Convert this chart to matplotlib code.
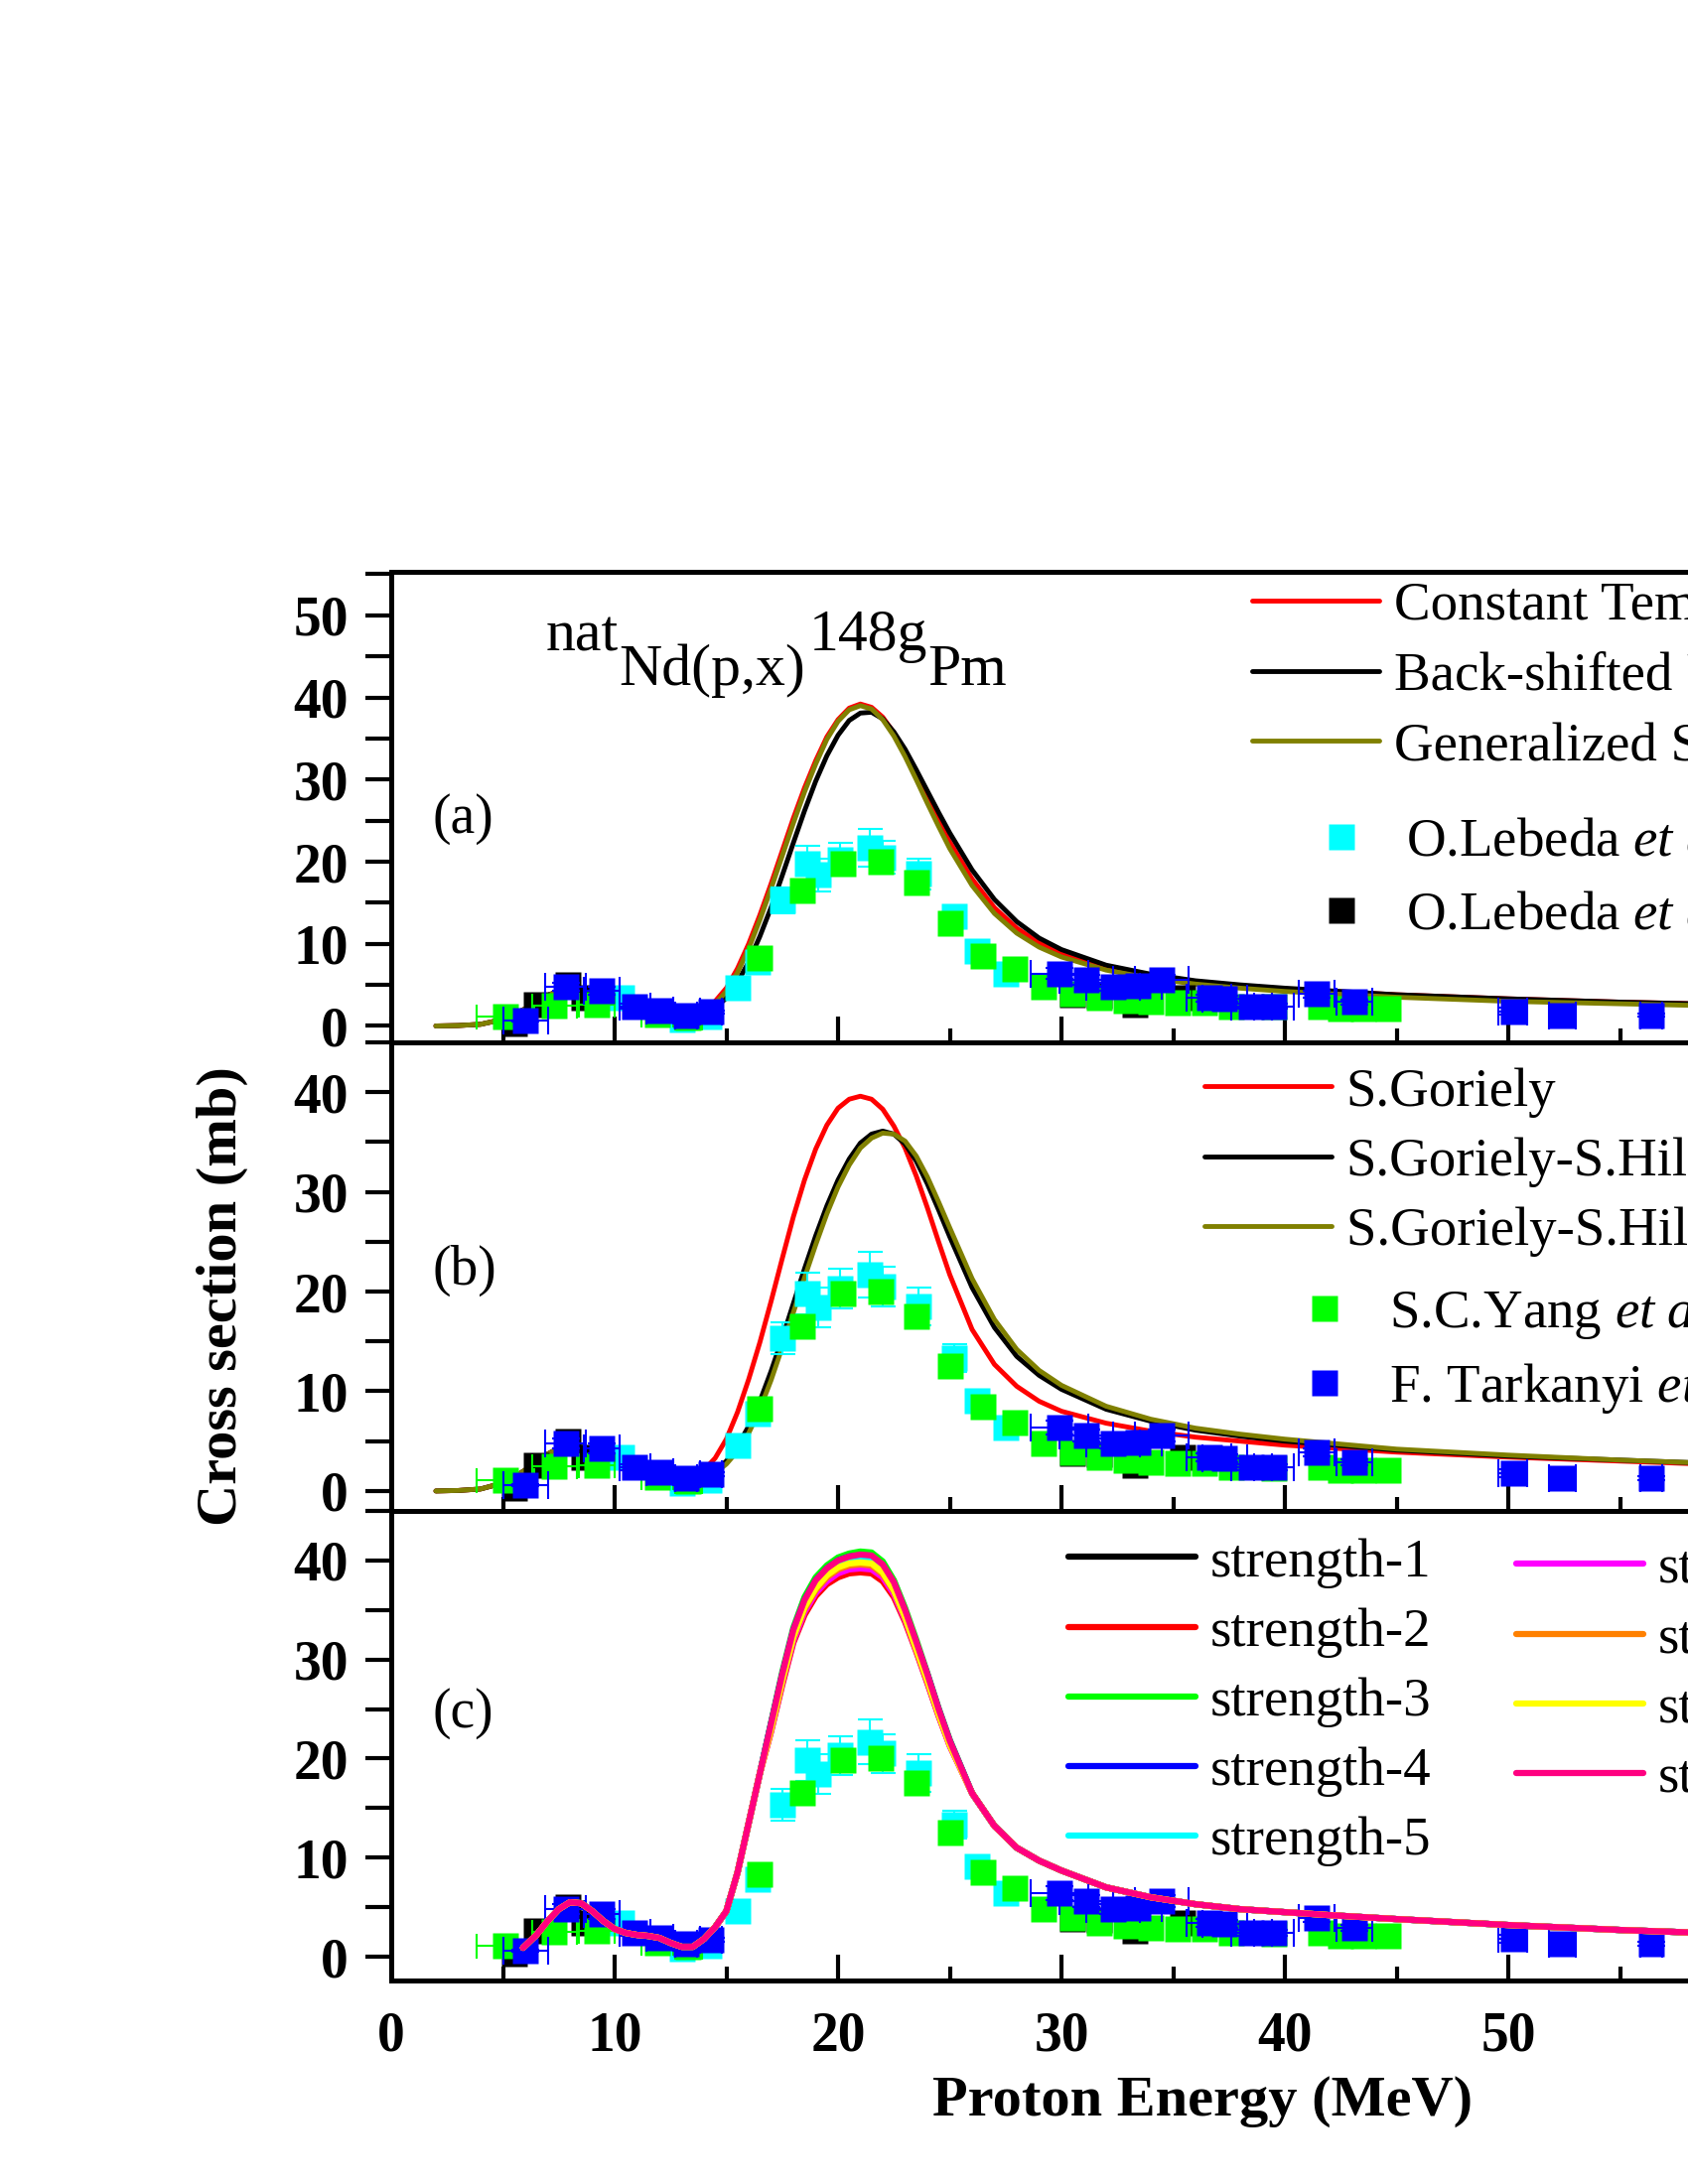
import matplotlib
matplotlib.use("Agg")
import matplotlib.pyplot as plt
import numpy as np

plt.rcParams['font.family'] = ['Liberation Serif', 'DejaVu Serif']
plt.rcParams['mathtext.fontset'] = 'custom'
plt.rcParams['mathtext.rm'] = 'Liberation Serif'
plt.rcParams['mathtext.it'] = 'Liberation Serif:italic'

# ---------------- experimental data ----------------
leb1_x = [10.3, 13.0, 14.2, 15.5, 16.4, 17.5, 18.6, 19.1, 20.1, 21.4, 22.0, 23.6, 25.2, 26.2, 27.5]
leb1_y = [3.4, 0.8, 1.1, 4.6, 7.8, 15.3, 19.8, 18.4, 20.3, 21.7, 20.5, 18.5, 13.3, 9.1, 6.4]
leb1_dy = [0.4, 0.3, 0.3, 0.5, 0.8, 1.6, 2.1, 2.0, 2.0, 2.3, 2.0, 1.9, 1.4, 1.0, 0.7]

leb2_x = [5.5, 6.5, 7.9, 8.6, 30.5, 31.7, 33.3, 35.4]
leb2_y = [0.3, 2.6, 5.0, 3.4, 3.8, 3.7, 2.6, 3.4]

yang_x = [5.1, 7.3, 9.2, 11.9, 13.3, 16.5, 18.4, 20.2, 21.9, 23.5, 25.0, 26.5, 27.9, 29.2, 30.5,
          31.7, 32.9, 34.0, 35.2, 36.4, 37.6, 39.5, 41.6, 42.5, 43.5, 44.6]
yang_y = [1.1, 2.5, 2.6, 1.4, 1.0, 8.3, 16.5, 19.8, 20.0, 17.5, 12.5, 8.5, 6.9, 4.8, 3.9,
          3.4, 3.1, 2.9, 2.8, 2.8, 2.4, 2.3, 2.4, 2.1, 2.1, 2.1]
yang_dx = [1.3, 1.0, 0.8, 0.7, 0.6, 0.5, 0.5, 0.4, 0.4, 0.4, 0.4, 0.3, 0.3, 0.3, 0.3,
           0.3, 0.3, 0.3, 0.3, 0.3, 0.3, 0.3, 0.3, 0.3, 0.3, 0.3]

tark_x = [6.0, 7.8, 9.4, 10.9, 12.0, 13.2, 14.3, 29.9, 31.1, 32.3, 33.4, 34.5, 36.6, 37.3,
          38.5, 39.5, 41.4, 43.1, 50.2, 52.4, 56.4]
tark_y = [0.6, 4.8, 4.3, 2.4, 1.9, 1.3, 1.7, 6.4, 5.6, 4.8, 4.9, 5.6, 3.4, 3.3,
          2.4, 2.4, 3.9, 2.9, 1.8, 1.3, 1.3]
tark_dx = [1.0, 0.9, 0.8, 0.7, 0.6, 0.5, 0.5, 1.3, 1.2, 1.2, 1.1, 1.2, 1.0, 1.0,
           0.9, 0.9, 0.8, 0.8, 0.65, 0.6, 0.5]
tark_dy = [0.1, 0.5, 0.5, 0.3, 0.2, 0.2, 0.2, 0.7, 0.6, 0.5, 0.5, 0.6, 0.4, 0.4,
           0.3, 0.3, 0.4, 0.3, 0.4, 0.2, 0.2]

# ---------------- model curves, panels (a) and (b) ----------------
E_ab = [2, 3, 4, 5, 5.5, 6, 6.5, 7, 7.5, 8, 8.5, 9, 9.5, 10, 10.5, 11, 11.5, 12, 12.5, 13, 13.5, 14,
        14.5, 15, 15.5, 16, 16.5, 17, 17.5, 18, 18.5, 19, 19.5, 20, 20.5, 21, 21.5, 22, 22.5, 23,
        23.5, 24, 24.5, 25,
        26, 27, 28, 29, 30, 32, 34, 36, 38, 40, 45, 50, 55, 60, 65]
low_ab = [0.0, 0.05, 0.2, 0.8, 1.4, 2.1, 2.9, 3.7, 4.3, 4.6, 4.5, 4.1, 3.6, 3.0, 2.5, 2.1, 1.8,
          1.6, 1.4, 1.35, 1.5, 2.1]

ctm_y = low_ab + [3.0, 4.6, 7.0, 10.0, 13.5, 17.3, 21.3, 25.3, 29.0, 32.3, 35.2, 37.3, 38.7, 39.2,
                  38.8, 37.6, 35.7, 33.3, 30.6, 27.8, 25.0, 22.4,
                  17.9, 14.4, 11.9, 10.1, 8.8, 7.1, 6.1, 5.4, 4.9, 4.5, 3.8, 3.3, 2.9, 2.6, 2.3]
bsfg_y = low_ab + [2.2, 3.4, 5.3, 7.8, 10.9, 14.4, 18.3, 22.3, 26.2, 29.8, 32.9, 35.4, 37.2, 38.1,
                   38.2, 37.4, 35.8, 33.7, 31.2, 28.6, 26.0, 23.5,
                   19.0, 15.4, 12.7, 10.7, 9.3, 7.4, 6.3, 5.5, 5.0, 4.6, 3.8, 3.3, 2.9, 2.6, 2.3]
gsm_y = low_ab + [2.7, 4.2, 6.5, 9.4, 12.9, 16.7, 20.7, 24.7, 28.5, 31.9, 34.9, 37.1, 38.5, 39.0,
                  38.6, 37.3, 35.3, 32.8, 30.0, 27.1, 24.3, 21.6,
                  17.1, 13.7, 11.3, 9.6, 8.4, 6.8, 5.8, 5.1, 4.6, 4.2, 3.5, 3.0, 2.7, 2.4, 2.2]

gor_y = low_ab + [3.3, 5.2, 7.9, 11.2, 14.9, 19.0, 23.3, 27.5, 31.2, 34.3, 36.7, 38.4, 39.3, 39.6,
                  39.3, 38.3, 36.6, 34.4, 31.6, 28.4, 25.0, 21.7,
                  16.2, 12.7, 10.5, 9.0, 8.0, 6.8, 6.0, 5.4, 5.0, 4.6, 3.9, 3.4, 3.0, 2.6, 2.3]
gsh1_y = low_ab + [2.0, 3.0, 4.5, 6.5, 9.0, 12.0, 15.3, 18.8, 22.3, 25.6, 28.6, 31.2, 33.3, 34.9,
                   35.8, 36.1, 35.8, 34.8, 33.1, 30.8, 28.2, 25.5,
                   20.4, 16.4, 13.5, 11.6, 10.2, 8.2, 7.0, 6.1, 5.5, 5.0, 4.1, 3.5, 3.1, 2.7, 2.4]
gsh2_y = low_ab + [1.8, 2.7, 4.0, 5.8, 8.2, 11.1, 14.4, 17.9, 21.4, 24.7, 27.8, 30.5, 32.7, 34.4,
                   35.4, 35.9, 35.8, 35.1, 33.6, 31.5, 29.0, 26.4,
                   21.3, 17.2, 14.2, 12.1, 10.6, 8.5, 7.2, 6.3, 5.7, 5.2, 4.2, 3.6, 3.1, 2.7, 2.4]

# ---------------- model curves, panel (c) ----------------
E_c = [5.9, 6.5, 7.0, 7.5, 8.0, 8.5, 9.0, 9.5, 10.0, 10.5, 11.0, 11.5, 12.0, 12.5, 13.0, 13.5, 14.0,
       14.5, 15.0, 15.5, 16.0, 16.5,
       17, 17.5, 18, 18.5, 19, 19.5, 20, 20.5, 21, 21.5, 22, 22.5, 23, 23.5, 24, 24.5, 25,
       26, 27, 28, 29, 30, 32, 34, 36, 38, 40, 42, 45, 50, 55, 60, 65]
low_c = [0.9, 2.2, 3.6, 4.8, 5.5, 5.4, 4.6, 3.6, 2.8, 2.4, 2.2, 2.1, 1.9, 1.4, 1.0, 1.0, 1.8,
         3.0, 4.6, 8.5, 13.5, 18.5]
tail_c = [16.5, 13.2, 11.0, 9.7, 8.7, 7.0, 6.0, 5.3, 4.8, 4.5, 4.2, 3.8, 3.2, 2.7, 2.3, 2.1]
peak_s1 = [23.5, 28.4, 32.9, 35.9, 37.9, 39.1, 39.9, 40.3, 40.4, 40.3, 39.4, 37.6, 34.9, 31.7, 28.4, 24.9, 21.7]
peak_s2 = [22.7, 27.4, 31.7, 34.5, 36.4, 37.6, 38.3, 38.7, 38.8, 38.7, 37.9, 36.3, 33.8, 30.8, 27.6, 24.3, 21.3]
peak_s3 = [23.6, 28.7, 33.2, 36.3, 38.3, 39.5, 40.3, 40.7, 40.9, 40.8, 39.9, 38.0, 35.2, 32.0, 28.6, 25.1, 21.9]
peak_s4 = [23.5, 28.5, 33.0, 36.0, 38.0, 39.2, 40.0, 40.4, 40.5, 40.4, 39.5, 37.7, 34.9, 31.7, 28.5, 25.0, 21.8]
peak_s5 = [23.4, 28.3, 32.8, 35.8, 37.8, 39.0, 39.8, 40.2, 40.3, 40.2, 39.3, 37.5, 34.8, 31.6, 28.4, 24.9, 21.7]
peak_s6 = [22.8, 27.6, 31.9, 34.8, 36.7, 37.9, 38.7, 39.1, 39.2, 39.1, 38.3, 36.6, 34.0, 30.9, 27.7, 24.4, 21.3]
peak_s7 = [22.9, 27.8, 32.2, 35.1, 37.0, 38.3, 39.1, 39.5, 39.6, 39.5, 38.6, 36.9, 34.2, 31.0, 27.8, 24.5, 21.4]
peak_s8 = [23.0, 27.9, 32.3, 35.3, 37.2, 38.5, 39.3, 39.7, 39.8, 39.7, 38.8, 37.0, 34.3, 31.1, 27.9, 24.5, 21.4]
peak_s9 = [23.5, 28.5, 33.0, 36.0, 38.0, 39.2, 40.0, 40.4, 40.6, 40.5, 39.6, 37.8, 35.0, 31.8, 28.5, 25.0, 21.8]

strength_labels = ['strength-1', 'strength-2', 'strength-3', 'strength-4', 'strength-5',
                   'strength-6', 'strength-7', 'strength-8', 'strength-9']
strength_peaks = [peak_s1, peak_s2, peak_s3, peak_s4, peak_s5, peak_s6, peak_s7, peak_s8, peak_s9]
strength_colors = ['#000000', '#FF0000', '#00FF00', '#0000FF', '#00FFFF',
                   '#FF00FF', '#FF8000', '#FFFF00', '#FF0080']

ld_labels_a = ['Constant Temperature Model', 'Back-shifted Fermi Gas Model', 'Generalized Superfluid Model']
ld_labels_b = ['S.Goriely', 'S.Goriely-S.Hilaire-A.J.Koning', 'S.Goriely-S.Hilaire-Temperature dependent']
model_colors = ['#FF0000', '#000000', '#808000']

# ---------------- figure ----------------
W, H = 1700, 2200
fig = plt.figure(figsize=(17, 22), dpi=100)

def px_axes(left, top, right, bottom):
    return fig.add_axes([left / W, 1 - bottom / H, (right - left) / W, (bottom - top) / H])

XMAX = 65
right_px = 394 + XMAX * 22.5
ax_a = px_axes(394, 576, right_px, 1050)
ax_b = px_axes(394, 1050, right_px, 1522)
ax_c = px_axes(394, 1522, right_px, 1995)

TICK_FS = 40
LEG_FS = 39.5
MS = 19
LSP = 0.36


def draw_data(ax, z):
    ax.errorbar(leb1_x, leb1_y, yerr=leb1_dy, fmt='none', ecolor='#00FFFF', elinewidth=1.5,
                capsize=9, capthick=1.5, zorder=z)
    l1, = ax.plot(leb1_x, leb1_y, 's', color='#00FFFF', ms=MS, mec='none', zorder=z,
                  label=r'O.Lebeda $\it{et\ al.}$ (2012)')
    l2, = ax.plot(leb2_x, leb2_y, 's', color='#000000', ms=MS, mec='none', zorder=z,
                  label=r'O.Lebeda $\it{et\ al.}$ (2014)')
    ax.errorbar(yang_x, yang_y, xerr=yang_dx, fmt='none', ecolor='#00FF00', elinewidth=1.5,
                capsize=9, capthick=1.5, zorder=z)
    l3, = ax.plot(yang_x, yang_y, 's', color='#00FF00', ms=MS, mec='none', zorder=z,
                  label=r'S.C.Yang $\it{et\ al.}$ (2013)')
    ax.errorbar(tark_x, tark_y, xerr=tark_dx, yerr=tark_dy, fmt='none', ecolor='#0000FF',
                elinewidth=1.5, capsize=10, capthick=1.5, zorder=z)
    l4, = ax.plot(tark_x, tark_y, 's', color='#0000FF', ms=MS, mec='none', zorder=z,
                  label=r'F. Tarkanyi $\it{et\ al.}$ (2011)')
    return l1, l2, l3, l4


def style_axis(ax, ylim, yticks, show_xlabels):
    ax.set_xlim(0, XMAX)
    ax.set_ylim(*ylim)
    ax.set_xticks(np.arange(0, XMAX + 1, 10))
    ax.set_xticks(np.arange(5, XMAX + 1, 10), minor=True)
    ax.set_yticks(yticks)
    ax.set_yticks([t + 5 for t in yticks], minor=True)
    ax.tick_params(axis='x', which='major', direction='in', length=19, width=3, bottom=True, top=False,
                   labelbottom=show_xlabels, labelsize=TICK_FS, pad=22)
    ax.tick_params(axis='x', which='minor', direction='in', length=10, width=3, bottom=True, top=False)
    ax.tick_params(axis='y', which='both', direction='out', length=19, width=3, left=True, right=False,
                   labelsize=TICK_FS, pad=12)
    for lab in ax.get_xticklabels() + ax.get_yticklabels():
        lab.set_fontweight('bold')
    for s in ax.spines.values():
        s.set_linewidth(3.6)


def make_legend(ax, handles, left_px, top_px, hl, **kw):
    return ax.legend(handles=handles, loc='upper left', bbox_to_anchor=(left_px / W, 1 - top_px / H),
                     bbox_transform=fig.transFigure, frameon=False, fontsize=LEG_FS, borderpad=0,
                     borderaxespad=0, handlelength=hl, handletextpad=0.27, labelspacing=LSP, **kw)


# panel (a)
lines_a = []
for yv, col, lab in zip([ctm_y, bsfg_y, gsm_y], model_colors, ld_labels_a):
    ln, = ax_a.plot(E_ab, yv, color=col, lw=3.5, label=lab, zorder=2, solid_capstyle='round')
    lines_a.append(ln)
da = draw_data(ax_a, 3)
style_axis(ax_a, (-2, 55.3), [0, 10, 20, 30, 40, 50], False)
leg1 = make_legend(ax_a, lines_a, 1261, 586, 2.33)
ax_a.add_artist(leg1)
make_legend(ax_a, [da[0], da[1]], 1300, 821, 1.85)

# panel (b)
lines_b = []
for yv, col, lab in zip([gor_y, gsh1_y, gsh2_y], model_colors, ld_labels_b):
    ln, = ax_b.plot(E_ab, yv, color=col, lw=3.5, label=lab, zorder=2, solid_capstyle='round')
    lines_b.append(ln)
db = draw_data(ax_b, 3)
style_axis(ax_b, (-2, 45), [0, 10, 20, 30, 40], False)
leg2 = make_legend(ax_b, lines_b, 1213, 1075, 2.33)
ax_b.add_artist(leg2)
make_legend(ax_b, [db[2], db[3]], 1283, 1296, 1.85)

# panel (c)
draw_data(ax_c, 2)
lines_c = []
for pk, col, lab in zip(strength_peaks, strength_colors, strength_labels):
    ln, = ax_c.plot(E_c, low_c + pk + tail_c, color=col, lw=4.5, label=lab, zorder=3,
                    solid_capstyle='round')
    lines_c.append(ln)
style_axis(ax_c, (-2.4, 45), [0, 10, 20, 30, 40], True)
leg3 = make_legend(ax_c, lines_c[:5], 1076, 1549, 2.33)
ax_c.add_artist(leg3)
make_legend(ax_c, lines_c[5:], 1527, 1556, 2.33)

# panel letters
for letter, ypx in [('(a)', 825), ('(b)', 1280), ('(c)', 1726)]:
    fig.text(436 / W, 1 - ypx / H, letter, fontsize=40, va='center', ha='left')

# reaction title
t1 = fig.text(550 / W, 1 - 655 / H, 'nat', fontsize=43, va='baseline', ha='left')
t2 = ax_a.annotate('Nd(p,x)', xy=(1, 0), xycoords=t1, xytext=(0, -25), textcoords='offset points',
                   fontsize=43, va='bottom', ha='left', annotation_clip=False)
t3 = ax_a.annotate('148g', xy=(1, 0), xycoords=t2, xytext=(3, 25), textcoords='offset points',
                   fontsize=43, va='bottom', ha='left', annotation_clip=False)
t4 = ax_a.annotate('Pm', xy=(1, 0), xycoords=t3, xytext=(0, -25), textcoords='offset points',
                   fontsize=43, va='bottom', ha='left', annotation_clip=False)

# axis labels
fig.text(224 / W, 1 - 1306 / H, 'Cross section (mb)', rotation=90, fontsize=42, fontweight='bold',
         ha='center', va='center')
fig.text(1211 / W, 1 - 2117 / H, 'Proton Energy (MeV)', fontsize=42, fontweight='bold',
         ha='center', va='center')

fig.savefig('out.png', dpi=100)
